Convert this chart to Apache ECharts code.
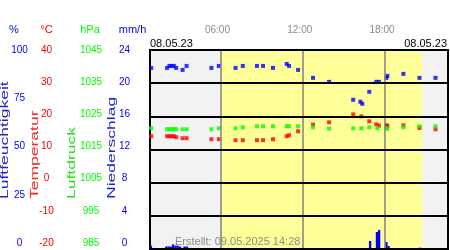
<!DOCTYPE html>
<html>
<head>
<meta charset="utf-8">
<script src="https://cdn.jsdelivr.net/npm/echarts@6/dist/echarts.min.js"></script>
<style>html,body{margin:0;padding:0;background:#fff}#c{width:450px;height:250px}</style>
</head>
<body>
<div id="c"></div>
<script>
// time in hours of 08.05.23
const xRange = [0.863, 22.59];
const daylight = [6.0, 20.71];
const hourMarks = [6, 12, 18];
const hourLabels = ['06:00', '12:00', '18:00'];

const humidityTicks = [0, 25, 50, 75, 100];
const tempTicks = [-20, -10, 0, 10, 20, 30, 40];
const pressureTicks = [985, 995, 1005, 1015, 1025, 1035, 1045];
const rainTicks = [0, 4, 8, 12, 16, 20, 24];

// [hour, %]
const humidity = [[0.95,91],[2.11,91],[2.28,92],[2.44,92],[2.60,92],[2.77,91],[3.24,90],[3.53,92],[5.34,91],[5.88,92],[7.10,91],[7.63,92],[8.66,92],[9.10,92],[9.83,91],[10.83,93],[11.0,92],[11.66,90],[12.75,86],[13.92,84],[15.68,75],[16.2,74],[16.34,73],[16.85,79],[17.36,84],[17.56,84],[18.1,86],[18.17,87],[19.34,88],[20.51,86],[21.68,86]];
// [hour, °C]
const temperature = [[0.95,14.0],[2.11,14.0],[2.28,14.0],[2.44,14.0],[2.60,14.0],[2.77,13.7],[3.24,13.4],[3.53,13.4],[5.34,13.1],[5.88,13.1],[7.10,12.8],[7.63,12.8],[8.66,12.8],[9.10,12.8],[9.83,13.1],[10.83,14.0],[11.0,14.3],[11.66,15.5],[12.75,17.5],[13.92,18.2],[15.68,20.6],[16.27,20.0],[16.85,18.5],[17.36,17.6],[17.56,17.2],[18.1,17.3],[18.17,17.1],[19.34,17.3],[20.51,16.5],[21.68,16.1]];
// [hour, hPa]
const pressure = [[0.95,1021.4],[2.11,1021.1],[2.28,1021.1],[2.44,1021.1],[2.60,1021.1],[2.77,1021.1],[3.24,1021.1],[3.53,1021.1],[5.34,1021.1],[5.88,1021.4],[7.10,1021.4],[7.63,1021.7],[8.66,1022.0],[9.10,1022.0],[9.83,1022.0],[10.83,1022.0],[11.0,1022.0],[11.66,1022.0],[12.75,1021.7],[13.92,1021.3],[15.68,1021.4],[16.27,1021.4],[16.85,1021.7],[17.44,1021.4],[18.1,1021.4],[18.17,1021.3],[19.34,1021.7],[20.51,1022.0],[21.68,1022.0]];
// [hour, mm/h]
const rain = [[0.93,0.4],[2.05,0.3],[2.22,0.3],[2.38,0.3],[2.55,0.55],[2.72,0.4],[2.88,0.4],[3.05,0.3],[3.38,0.3],[3.55,0.3],[5.25,0.1],[16.91,0.97],[17.41,2.05],[17.57,2.3],[18.10,0.84],[18.26,0.36],[20.53,0.16]];

const FONT = 'Liberation Sans, Arial, sans-serif';
const BLUE = '#0000ff', RED = '#ff0000', GREEN = '#00ff00';

function labelAxis(ticks, min, max, color, centerX) {
  return {
    gridIndex: 1, type: 'value', position: 'left', min: min, max: max,
    offset: 150 - centerX,
    axisLine: {show: false}, axisTick: {show: false}, splitLine: {show: false},
    axisLabel: {customValues: ticks, formatter: v => String(v), color: color, fontSize: 10, fontFamily: FONT, align: 'center', margin: 0}
  };
}

const chart = echarts.init(document.getElementById('c'), null, {renderer: 'canvas'});
chart.setOption({
  animation: false,
  backgroundColor: '#fff',
  grid: [
    {left: 150, right: 2, top: 50, bottom: 1, show: true, backgroundColor: '#f2f2f2', borderColor: '#000', borderWidth: 2},
    {left: 150, right: 2, top: 50, bottom: 7, show: false}
  ],
  xAxis: [
    {gridIndex: 0, type: 'value', min: xRange[0], max: xRange[1], position: 'top',
     axisLine: {show: false}, axisTick: {show: false}, splitLine: {show: false},
     axisLabel: {customValues: hourMarks, formatter: v => hourLabels[hourMarks.indexOf(v)], color: '#8c8c8c', fontSize: 10, fontFamily: FONT, margin: 15, padding: [0, 6, 0, 0]}},
    {gridIndex: 1, type: 'value', min: 0, max: 1, show: false}
  ],
  yAxis: [
    {gridIndex: 0, type: 'value', min: 0, max: 100, show: false},
    {gridIndex: 0, type: 'value', min: -20, max: 40, show: false},
    {gridIndex: 0, type: 'value', min: 985, max: 1045, show: false},
    {gridIndex: 0, type: 'value', min: 0, max: 24, interval: 4, z: 10,
     axisLine: {show: false}, axisTick: {show: false}, axisLabel: {show: false},
     splitLine: {show: true, lineStyle: {color: '#000', width: 2}}},
    labelAxis(humidityTicks, 0, 100, BLUE, 19.5),
    labelAxis(tempTicks, -20, 40, RED, 46.5),
    labelAxis(pressureTicks, 985, 1045, GREEN, 91),
    labelAxis(rainTicks, 0, 24, BLUE, 124.5)
  ],
  series: [
    {type: 'line', xAxisIndex: 0, yAxisIndex: 0, data: [], z: 1, silent: true,
     markArea: {silent: true, itemStyle: {color: '#ffff99'}, data: [[{xAxis: daylight[0]}, {xAxis: daylight[1]}]]}},
    {type: 'line', xAxisIndex: 0, yAxisIndex: 0, data: [], z: 1.5, silent: true,
     markLine: {silent: true, symbol: 'none', label: {show: false}, lineStyle: {color: '#808080', width: 1.5, type: 'solid'},
       data: hourMarks.map(h => ({xAxis: h}))}},
    {type: 'bar', name: 'Niederschlag', xAxisIndex: 0, yAxisIndex: 3, data: rain, barWidth: 2.3, itemStyle: {color: BLUE}, z: 3},
    {type: 'scatter', name: 'Luftfeuchtigkeit', xAxisIndex: 0, yAxisIndex: 0, data: humidity, symbol: 'rect', symbolSize: 4, itemStyle: {color: BLUE}, z: 4},
    {type: 'scatter', name: 'Temperatur', xAxisIndex: 0, yAxisIndex: 1, data: temperature, symbol: 'rect', symbolSize: 4, itemStyle: {color: RED}, z: 4},
    {type: 'scatter', name: 'Luftdruck', xAxisIndex: 0, yAxisIndex: 2, data: pressure, symbol: 'rect', symbolSize: 4, itemStyle: {color: GREEN}, z: 4}
  ],
  graphic: [
    {type: 'text', x: 14, y: 30, style: {text: '%', fill: BLUE, font: '11px ' + FONT, align: 'center', verticalAlign: 'middle'}},
    {type: 'text', x: 46.5, y: 30, style: {text: '°C', fill: RED, font: '11px ' + FONT, align: 'center', verticalAlign: 'middle'}},
    {type: 'text', x: 90, y: 30, style: {text: 'hPa', fill: GREEN, font: '11px ' + FONT, align: 'center', verticalAlign: 'middle'}},
    {type: 'text', x: 132.5, y: 30, style: {text: 'mm/h', fill: BLUE, font: '11px ' + FONT, align: 'center', verticalAlign: 'middle'}},
    {type: 'text', x: 5, y: 199, rotation: Math.PI / 2, scaleX: 1.75, style: {text: 'Luftfeuchtigkeit', fill: '#2020d0', font: '10px ' + FONT, align: 'left', verticalAlign: 'middle'}},
    {type: 'text', x: 35, y: 199, rotation: Math.PI / 2, scaleX: 1.75, style: {text: 'Temperatur', fill: '#ff2020', font: '10px ' + FONT, align: 'left', verticalAlign: 'middle'}},
    {type: 'text', x: 72, y: 199, rotation: Math.PI / 2, scaleX: 1.75, style: {text: 'Luftdruck', fill: '#20e020', font: '10px ' + FONT, align: 'left', verticalAlign: 'middle'}},
    {type: 'text', x: 112.5, y: 199, rotation: Math.PI / 2, scaleX: 1.75, style: {text: 'Niederschlag', fill: '#2020d0', font: '10px ' + FONT, align: 'left', verticalAlign: 'middle'}},
    {type: 'text', x: 150, y: 43.5, style: {text: '08.05.23', fill: '#000', font: '11px ' + FONT, align: 'left', verticalAlign: 'middle'}},
    {type: 'text', x: 447, y: 43.5, style: {text: '08.05.23', fill: '#000', font: '11px ' + FONT, align: 'right', verticalAlign: 'middle'}},
    {type: 'text', x: 175, y: 241.5, z: 100, style: {text: 'Erstellt: 09.05.2025 14:28', fill: '#8c8c8c', font: '11px ' + FONT, align: 'left', verticalAlign: 'middle'}}
  ]
});
</script>
</body>
</html>
